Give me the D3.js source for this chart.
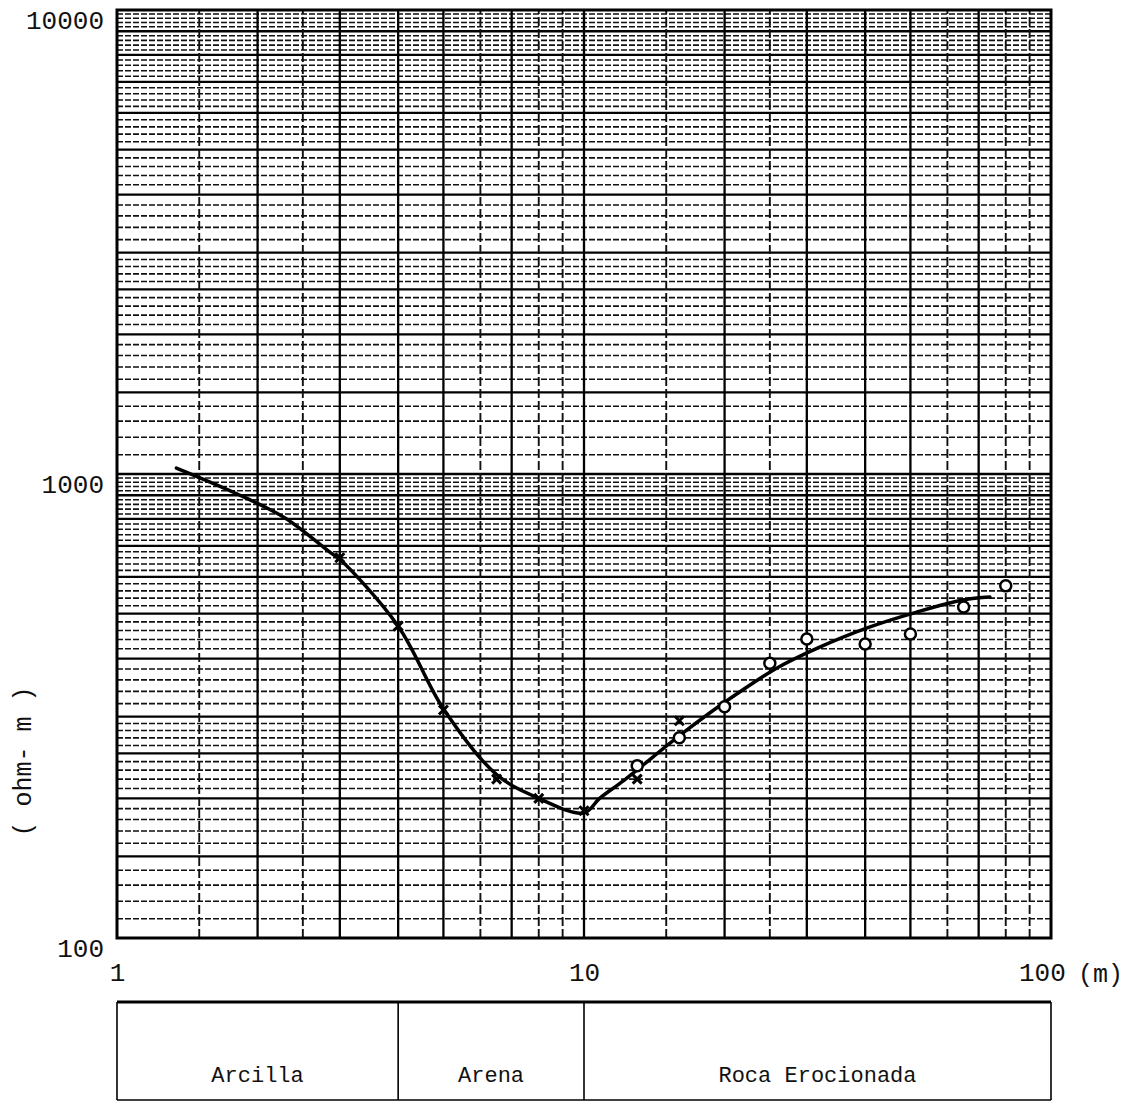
<!DOCTYPE html>
<html>
<head>
<meta charset="utf-8">
<script src="https://cdn.jsdelivr.net/npm/d3@7"></script>
<style>
  body { margin: 0; background: #fff; }
  .lbl { font-family: "Liberation Mono", "DejaVu Sans Mono", monospace; fill: #111; }
</style>
</head>
<body>
<div id="chart"></div>
<script>
// Sounding data (AB/2 in m, apparent resistivity in ohm-m)
const crossX = [3, 4, 5, 6.5, 8, 10, 13, 16];
const crossRho = [660, 470, 310, 220, 200, 188, 220, 294];

const circleX = [13, 16, 20, 25, 30, 40, 50, 65, 80];
const circleRho = [235, 270, 315, 391, 441, 430, 452, 517, 574];

// Hand drawn fitted curve
const curveX = [1.34, 1.79, 2.29, 2.87, 3, 4, 5, 6.5, 8, 10, 10.8, 12.2, 16.4, 20.8, 25.9, 31.7, 40.4, 51.6, 64.8, 74];
const curveRho = [1030, 910, 804, 676, 655, 470, 312, 225, 200, 186, 200, 219, 278, 331, 382, 422, 466, 504, 535, 543];

// Interpreted layers under the plot
const layerBounds = [1, 4, 10, 100];
const layerNames = ["Arcilla", "Arena", "Roca Erocionada"];

// Tick labels
const xTicks = [1, 10, 100];
const yTicks = [100, 1000, 10000];

// Log paper rulings (mantissas within a decade)
const hMajor = [1.5, 2, 2.5, 3, 4, 5, 6, 7, 8, 9];
const hMinor = [1.1, 1.2, 1.3, 1.4, 1.6, 1.7, 1.8, 1.9,
                2.1, 2.2, 2.3, 2.4, 2.6, 2.7, 2.8, 2.9,
                3.2, 3.4, 3.6, 3.8, 4.2, 4.4, 4.6, 4.8,
                5.2, 5.4, 5.6, 5.8, 6.2, 6.4, 6.6, 6.8,
                7.2, 7.4, 7.6, 7.8, 8.2, 8.4, 8.6, 8.8,
                9.2, 9.4, 9.6, 9.8];
const vSolid = [2, 3, 4, 5, 7];
const vDashed = [1.5, 2.5, 6, 8, 9];

const width = 1130, height = 1119;
const margin = { left: 117, right: 79, top: 10, bottom: 181 };

const svg = d3.select("#chart").append("svg")
    .attr("width", width)
    .attr("height", height);

const x = d3.scaleLog().domain([1, 100]).range([margin.left, width - margin.right]);
const y = d3.scaleLog().domain([100, 10000]).range([height - margin.bottom, margin.top]);

const [x0, x1] = x.range();
const [y0, y1] = y.range();

// expand mantissas over the decades of each axis
const expand = (list, decades) => decades.flatMap(d => list.map(m => m * d));

const grid = svg.append("g");

// minor horizontal rulings
grid.selectAll(".hmin")
    .data(expand(hMinor, [100, 1000]))
    .enter().append("line")
    .attr("x1", x0).attr("x2", x1)
    .attr("y1", d => y(d)).attr("y2", d => y(d))
    .attr("stroke", "#111")
    .attr("stroke-width", 1.6)
    .attr("stroke-dasharray", "6,2");

// major horizontal rulings
grid.selectAll(".hmaj")
    .data(expand(hMajor, [100, 1000]).concat([1000]))
    .enter().append("line")
    .attr("x1", x0).attr("x2", x1)
    .attr("y1", d => y(d)).attr("y2", d => y(d))
    .attr("stroke", "#000")
    .attr("stroke-width", 2.3);

// vertical rulings
grid.selectAll(".vdash")
    .data(expand(vDashed, [1, 10]))
    .enter().append("line")
    .attr("x1", d => x(d)).attr("x2", d => x(d))
    .attr("y1", y0).attr("y2", y1)
    .attr("stroke", "#111")
    .attr("stroke-width", 1.9)
    .attr("stroke-dasharray", "9,3");

grid.selectAll(".vsolid")
    .data(expand(vSolid, [1, 10]).concat([10]))
    .enter().append("line")
    .attr("x1", d => x(d)).attr("x2", d => x(d))
    .attr("y1", y0).attr("y2", y1)
    .attr("stroke", "#000")
    .attr("stroke-width", 2.3);

// frame
svg.append("rect")
    .attr("x", x0).attr("y", y1)
    .attr("width", x1 - x0).attr("height", y0 - y1)
    .attr("fill", "none")
    .attr("stroke", "#000")
    .attr("stroke-width", 3);

// fitted curve
const curvePts = curveX.map((v, i) => [v, curveRho[i]]);
svg.append("path")
    .datum(curvePts)
    .attr("fill", "none")
    .attr("stroke", "#000")
    .attr("stroke-width", 3.5)
    .attr("stroke-linecap", "round")
    .attr("d", d3.line().x(d => x(d[0])).y(d => y(d[1])).curve(d3.curveCatmullRom));

// cross markers
const s = 4.5;
svg.selectAll(".cross")
    .data(crossX.map((v, i) => [v, crossRho[i]]))
    .enter().append("path")
    .attr("transform", d => `translate(${x(d[0])},${y(d[1])})`)
    .attr("d", `M${-s},${-s}L${s},${s}M${-s},${s}L${s},${-s}`)
    .attr("stroke", "#000")
    .attr("stroke-width", 3);

// circle markers
svg.selectAll(".circ")
    .data(circleX.map((v, i) => [v, circleRho[i]]))
    .enter().append("circle")
    .attr("cx", d => x(d[0]))
    .attr("cy", d => y(d[1]))
    .attr("r", 5.5)
    .attr("fill", "#fff")
    .attr("stroke", "#000")
    .attr("stroke-width", 2.5);

// y axis labels
const yAxis = svg.append("g")
    .attr("transform", `translate(${x0},10)`)
    .call(d3.axisLeft(y).tickValues(yTicks).tickSize(0).tickPadding(13).tickFormat(d3.format("d")));
yAxis.select(".domain").remove();
yAxis.selectAll("text").attr("class", "lbl").style("font-size", "26px");

// x axis labels
const xAxis = svg.append("g")
    .attr("transform", `translate(0,${y0})`)
    .call(d3.axisBottom(x).tickValues(xTicks).tickSize(0).tickPadding(25).tickFormat(d3.format("d")));
xAxis.select(".domain").remove();
xAxis.selectAll("text").attr("class", "lbl").style("font-size", "26px")
    .attr("dx", d => d === 100 ? "-0.35em" : 0);

svg.append("text")
    .attr("class", "lbl")
    .attr("x", x1 + 27)
    .attr("y", y0 + 44)
    .style("font-size", "25px")
    .text("(m)");

svg.append("text")
    .attr("class", "lbl")
    .attr("transform", `translate(22,${y(240)}) rotate(-90)`)
    .attr("text-anchor", "middle")
    .attr("dy", "0.35em")
    .style("font-size", "25px")
    .text("( ohm- m )");

// layer table
const boxTop = 1002, boxBottom = 1100;
const table = svg.append("g");
table.append("line")
    .attr("x1", x(layerBounds[0])).attr("x2", x(layerBounds[layerBounds.length - 1]))
    .attr("y1", boxTop).attr("y2", boxTop)
    .attr("stroke", "#000").attr("stroke-width", 3);
table.append("line")
    .attr("x1", x(layerBounds[0])).attr("x2", x(layerBounds[layerBounds.length - 1]))
    .attr("y1", boxBottom).attr("y2", boxBottom)
    .attr("stroke", "#000").attr("stroke-width", 1.6);
table.selectAll(".sep")
    .data(layerBounds)
    .enter().append("line")
    .attr("x1", d => x(d)).attr("x2", d => x(d))
    .attr("y1", boxTop).attr("y2", boxBottom)
    .attr("stroke", "#000").attr("stroke-width", 1.6);
table.selectAll(".name")
    .data(layerNames)
    .enter().append("text")
    .attr("class", "lbl")
    .attr("x", (d, i) => (x(layerBounds[i]) + x(layerBounds[i + 1])) / 2)
    .attr("y", 1082)
    .attr("text-anchor", "middle")
    .style("font-size", "22px")
    .text(d => d);
</script>
</body>
</html>
